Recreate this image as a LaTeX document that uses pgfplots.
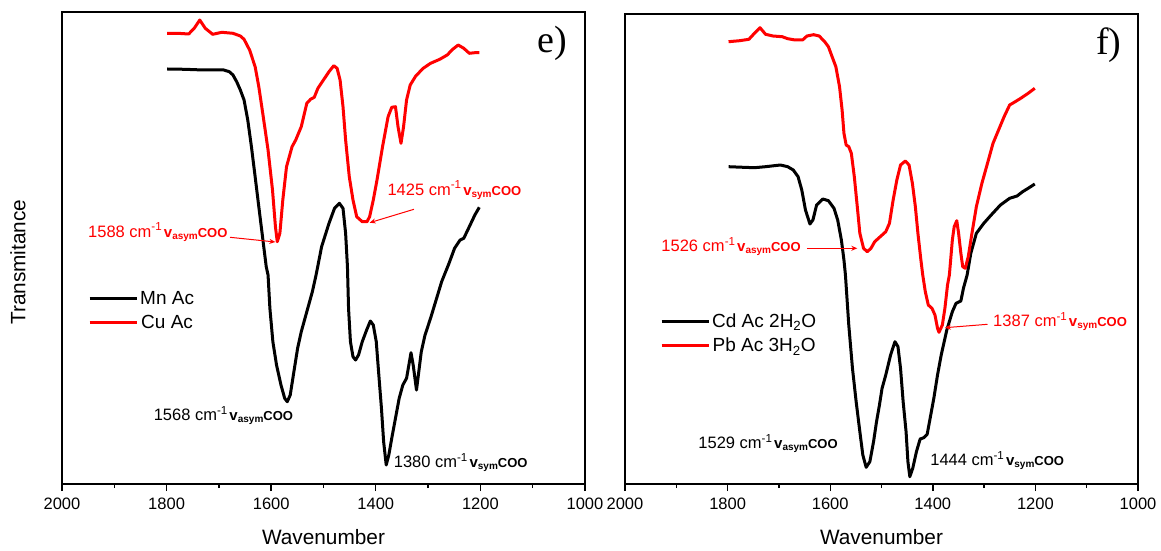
\documentclass[border=0pt]{standalone}
\usepackage{fontspec}
\setmainfont{Liberation Sans}
\newfontfamily\timesfont{Liberation Serif}
\usepackage{pgfplots}
\pgfplotsset{compat=1.18}
\usetikzlibrary{arrows.meta}

\newcommand{\ann}[2]{{\fontsize{16.5}{18}\selectfont #1 cm\textsuperscript{-1}}\,{\bfseries{\fontsize{15}{16}\selectfont v}\raisebox{-2pt}{\fontsize{10}{10}\selectfont #2}{\fontsize{13}{14}\selectfont COO}}}

\pgfplotsset{
  myaxis/.style={
    scale only axis,
    x dir=reverse,
    xmin=1000, xmax=2000,
    xtick={1000,1200,...,2000},
    minor x tick num=1,
    ytick=\empty,
    tick align=outside,
    xtick pos=bottom,
    major tick length=7pt,
    minor tick length=4pt,
    tick style={black, line width=1.4pt},
    axis line style={line width=1.6pt},
    tick label style={font=\fontsize{16.5}{18}\selectfont},
    xticklabel style={yshift=-3pt},
    /pgf/number format/1000 sep={},
    /pgf/number format/assume math mode=true,
    xlabel={Wavenumber},
    xlabel style={font=\fontsize{20.8}{22}\selectfont, at={(axis description cs:0.5,-0.112)}, anchor=center},
    legend style={draw=none, fill=none, font=\fontsize{19}{20}\selectfont, inner sep=0pt, row sep=5pt},
    legend image code/.code={\draw[#1] (0pt,0pt) -- (47pt,0pt);},
    every axis plot/.append style={line width=3pt, line join=round},
  }
}

\begin{document}
\begin{tikzpicture}
\useasboundingbox (0,0) rectangle (1161pt,550pt);
% ---------------- panel e ----------------
\begin{axis}[myaxis, at={(62pt,66pt)}, anchor=south west, width=523pt, height=472pt,
  ymin=66, ymax=538,
  ylabel={Transmitance},
  ylabel style={font=\fontsize{20.8}{22}\selectfont, at={(axis description cs:-0.0841,0.470)}, anchor=center},
  legend style={at={(axis description cs:0.0497,0.3676)}, anchor=west}]
\addplot[black] coordinates {(1798.8,481.0)(1764.9,480.7)(1729.6,480.0)(1690.7,480.0)(1680.1,478.3)(1673.1,475.0)(1666.0,468.3)(1659.0,460.0)(1651.9,450.0)(1644.8,430.0)(1637.8,403.3)(1630.7,373.3)(1623.7,343.3)(1616.6,313.3)(1609.5,283.3)(1606.0,275.0)(1602.5,241.7)(1596.8,208.3)(1589.8,185.0)(1581.3,165.0)(1574.2,151.7)(1569.3,148.3)(1563.6,155.0)(1556.6,178.3)(1549.5,201.7)(1542.5,218.3)(1531.9,238.3)(1521.3,258.3)(1514.2,275.0)(1503.6,303.3)(1489.5,326.7)(1478.9,341.7)(1469.7,346.7)(1462.7,341.7)(1457.7,316.7)(1454.2,283.3)(1452.1,241.7)(1448.5,208.3)(1443.6,193.3)(1438.7,190.0)(1433.0,195.0)(1425.9,208.3)(1417.5,220.0)(1410.4,229.0)(1404.8,225.0)(1399.1,208.3)(1394.2,175.0)(1389.2,141.7)(1385.0,108.3)(1380.1,85.0)(1375.1,95.0)(1369.5,111.7)(1362.4,131.7)(1355.3,151.7)(1348.3,165.0)(1341.2,171.7)(1332.7,197.3)(1328.5,185.0)(1322.2,160.0)(1318.6,175.0)(1313.0,198.3)(1305.9,215.0)(1295.3,231.7)(1284.7,250.0)(1274.1,268.3)(1260.0,286.7)(1249.4,301.7)(1238.8,310.0)(1231.8,311.7)(1221.2,323.3)(1210.6,335.0)(1202.1,342.7)};
\addplot[red] coordinates {(1798.8,516.7)(1779.0,516.7)(1757.8,516.0)(1747.2,521.7)(1736.6,530.0)(1726.0,521.7)(1711.9,515.7)(1694.3,517.7)(1673.1,516.7)(1659.0,514.0)(1651.9,510.7)(1641.3,500.0)(1630.7,483.3)(1623.7,463.3)(1615.2,433.3)(1606.0,400.0)(1597.5,360.0)(1591.9,323.3)(1588.4,308.3)(1583.4,316.7)(1577.8,350.0)(1570.7,383.3)(1560.1,403.3)(1553.1,410.0)(1542.5,423.3)(1531.9,446.7)(1524.8,450.7)(1517.7,452.7)(1510.7,461.7)(1500.1,470.0)(1489.5,478.3)(1480.3,484.3)(1474.0,481.7)(1468.3,470.0)(1462.7,443.3)(1457.7,410.0)(1450.7,373.3)(1443.6,350.0)(1436.5,333.3)(1425.9,328.3)(1416.8,328.3)(1411.8,333.3)(1404.8,350.0)(1397.7,370.0)(1387.1,403.3)(1376.5,433.3)(1369.5,442.7)(1362.4,443.3)(1357.5,423.3)(1351.8,406.7)(1346.9,423.3)(1341.2,450.0)(1334.2,465.0)(1323.6,474.0)(1309.4,481.7)(1295.3,486.7)(1277.7,490.7)(1263.5,495.0)(1253.0,500.7)(1242.4,505.0)(1231.8,501.7)(1221.2,496.7)(1210.6,497.3)(1202.1,497.3)};
\legend{Mn Ac, Cu Ac}
\node[red, anchor=base west, inner sep=0pt] at (axis cs:1950.3,313) {\ann{1588}{asym}};
\node[red, anchor=base west, inner sep=0pt] at (axis cs:1377.9,355) {\ann{1425}{sym}};
\node[black, anchor=base west, inner sep=0pt] at (axis cs:1824.9,129.3) {\ann{1568}{asym}};
\node[black, anchor=base west, inner sep=0pt] at (axis cs:1365.9,82.3) {\ann{1380}{sym}};
\draw[red, line width=1pt, -{Stealth[length=6pt,width=5pt]}] (axis cs:1678.7,312.7) -- (axis cs:1592,308);
\draw[red, line width=1pt, -{Stealth[length=6pt,width=5pt]}] (axis cs:1327.1,340.7) -- (axis cs:1411.8,327.3);
\node at (rel axis cs:0.937,0.934) {\timesfont\fontsize{38}{40}\selectfont e)};
\end{axis}
% ---------------- panel f ----------------
\begin{axis}[myaxis, at={(625pt,66pt)}, anchor=south west, width=513pt, height=470pt,
  ymin=66, ymax=536,
  legend style={at={(axis description cs:0.0682,0.320)}, anchor=west}]
\addplot[black] coordinates {(1798.1,383.3)(1769.3,382.7)(1747.7,382.3)(1726.0,383.3)(1697.2,385.0)(1682.8,383.3)(1672.0,380.0)(1662.6,373.3)(1655.4,360.0)(1648.2,340.0)(1639.5,326.0)(1633.7,330.0)(1626.5,345.0)(1614.3,351.0)(1603.5,349.3)(1592.6,341.7)(1585.4,330.0)(1578.2,310.0)(1573.2,290.0)(1570.3,275.0)(1563.8,225.0)(1556.6,181.7)(1549.4,148.3)(1542.2,118.3)(1536.4,95.0)(1529.9,82.7)(1522.7,88.3)(1515.5,108.3)(1509.7,128.3)(1504.0,145.0)(1498.9,161.7)(1491.7,175.0)(1482.3,195.0)(1473.7,208.3)(1467.9,203.3)(1462.9,181.7)(1457.8,148.3)(1452.1,118.3)(1448.5,88.3)(1444.8,73.3)(1439.1,81.7)(1431.9,98.3)(1424.7,111.0)(1417.5,112.3)(1411.0,115.7)(1405.2,131.7)(1398.0,151.7)(1390.8,175.0)(1383.6,195.0)(1372.7,220.0)(1361.9,238.3)(1354.7,246.7)(1345.3,249.0)(1340.3,261.7)(1333.1,275.0)(1325.9,296.7)(1315.1,316.7)(1300.6,326.7)(1286.2,335.0)(1268.2,345.0)(1250.2,351.7)(1235.8,354.0)(1224.9,358.3)(1214.1,361.7)(1201.2,366.0)};
\addplot[red] coordinates {(1798.1,508.3)(1776.5,509.3)(1758.5,510.7)(1747.7,516.7)(1736.8,522.3)(1726.0,515.7)(1711.6,514.0)(1693.6,513.3)(1682.8,511.3)(1668.3,510.0)(1653.9,510.0)(1645.3,514.0)(1632.3,515.3)(1621.5,514.0)(1610.7,508.3)(1603.5,503.3)(1596.3,493.3)(1589.0,483.3)(1581.8,463.3)(1576.8,440.0)(1573.2,416.7)(1568.9,405.0)(1563.8,403.3)(1558.8,396.7)(1553.0,373.3)(1547.2,343.3)(1542.2,316.7)(1535.0,301.7)(1527.8,298.3)(1520.5,301.7)(1513.3,308.3)(1502.5,313.3)(1491.7,318.3)(1484.5,326.7)(1477.3,350.0)(1470.1,370.0)(1462.9,385.0)(1453.5,389.0)(1446.3,385.0)(1439.8,366.7)(1434.0,343.3)(1429.0,316.7)(1423.2,290.0)(1419.6,275.0)(1414.6,258.3)(1408.8,245.0)(1401.6,241.7)(1395.8,235.0)(1390.8,221.7)(1387.9,217.7)(1381.4,225.0)(1376.4,241.7)(1371.3,265.0)(1367.7,275.0)(1361.9,310.0)(1358.3,323.3)(1353.3,329.3)(1349.7,316.7)(1345.3,296.7)(1341.7,283.3)(1336.7,281.7)(1330.9,293.3)(1323.7,316.7)(1315.1,343.3)(1304.3,366.7)(1293.4,386.7)(1282.6,406.7)(1271.8,420.0)(1261.0,433.3)(1250.2,445.0)(1239.4,448.3)(1228.6,451.7)(1214.1,456.7)(1201.2,461.7)};
\legend{Cd Ac 2H\textsubscript{2}O, Pb Ac 3H\textsubscript{2}O}
\node[red, anchor=base west, inner sep=0pt] at (axis cs:1929.3,298.3) {\ann{1526}{asym}};
\node[red, anchor=base west, inner sep=0pt] at (axis cs:1282.6,223.3) {\ann{1387}{sym}};
\node[black, anchor=base west, inner sep=0pt] at (axis cs:1857.2,101.7) {\ann{1529}{asym}};
\node[black, anchor=base west, inner sep=0pt] at (axis cs:1405.2,84.3) {\ann{1444}{sym}};
\draw[red, line width=1pt, -{Stealth[length=6pt,width=5pt]}] (axis cs:1645.3,301.7) -- (axis cs:1547.2,301.7);
\draw[red, line width=1pt, -{Stealth[length=6pt,width=5pt]}] (axis cs:1293.4,225.7) -- (axis cs:1376.4,222.3);
\node at (rel axis cs:0.943,0.934) {\timesfont\fontsize{38}{40}\selectfont f)};
\end{axis}
\end{tikzpicture}
\end{document}
